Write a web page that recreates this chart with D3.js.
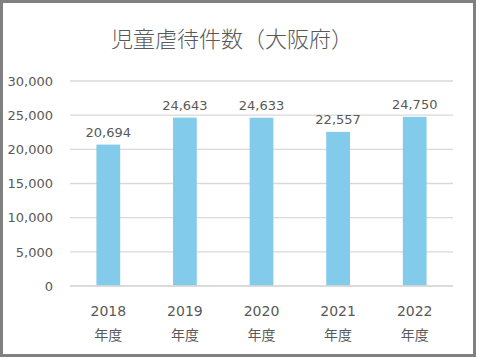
<!DOCTYPE html>
<html>
<head>
<meta charset="utf-8">
<script src="https://cdn.jsdelivr.net/npm/d3@7"></script>
<style>
  body { margin: 0; background: #fff; }
  text { font-family: "DejaVu Sans", Verdana, sans-serif; fill: #595959; }
  .jp { font-family: "Noto Sans CJK JP", sans-serif; }
</style>
</head>
<body>
<div id="chart"></div>
<script>
// data
var years = ['2018', '2019', '2020', '2021', '2022'];
var cases = [20694, 24643, 24633, 22557, 24750];
var yTicks = [0, 5000, 10000, 15000, 20000, 25000, 30000];
var title = '児童虐待件数（大阪府）';

var w = 477, h = 359;
// plot area (note: "top" is reserved on window, so use plot* names)
var plotLeft = 70, plotRight = 453, plotTop = 81, plotBottom = 286;

var svg = d3.select('#chart').append('svg')
  .attr('width', w).attr('height', h);

svg.append('rect')
  .attr('x', 1.5).attr('y', 1.5)
  .attr('width', w - 4).attr('height', h - 5)
  .attr('fill', '#fff').attr('stroke', '#808080').attr('stroke-width', 3);

var x = d3.scaleBand().domain(years).range([plotLeft, plotRight]).paddingInner(0.69).paddingOuter(0.345);
var y = d3.scaleLinear().domain([0, 30000]).range([plotBottom, plotTop]);

// gridlines
svg.selectAll('line.grid')
  .data(yTicks)
  .enter().append('line')
  .attr('x1', plotLeft).attr('x2', plotRight)
  .attr('y1', function(d) { return y(d); })
  .attr('y2', function(d) { return y(d); })
  .attr('stroke', '#d9d9d9').attr('stroke-width', 1.3);

// y axis labels
var yAxis = d3.axisLeft(y).tickValues(yTicks).tickSize(0).tickPadding(0)
  .tickFormat(d3.format(','));
var gy = svg.append('g').attr('transform', 'translate(53,0)').call(yAxis);
gy.select('.domain').remove();
gy.selectAll('text').attr('font-size', 13).attr('font-family', null).style('fill', '#595959');

// bars
svg.selectAll('rect.bar')
  .data(cases)
  .enter().append('rect')
  .attr('class', 'bar')
  .attr('x', function(d, i) { return x(years[i]); })
  .attr('width', x.bandwidth())
  .attr('y', function(d) { return y(d); })
  .attr('height', function(d) { return y(0) - y(d); })
  .attr('fill', '#83cbeb');

// re-draw baseline over bars
svg.append('line')
  .attr('x1', plotLeft).attr('x2', plotRight)
  .attr('y1', y(0)).attr('y2', y(0))
  .attr('stroke', '#d9d9d9').attr('stroke-width', 1.3);

// value labels
svg.selectAll('text.val')
  .data(cases)
  .enter().append('text')
  .attr('x', function(d, i) { return x(years[i]) + x.bandwidth() / 2; })
  .attr('y', function(d) { return y(d) - 8; })
  .attr('text-anchor', 'middle')
  .attr('font-size', 13)
  .text(d3.format(','));

// x labels
var gx = svg.selectAll('g.xl')
  .data(years)
  .enter().append('g')
  .attr('transform', function(d) { return 'translate(' + (x(d) + x.bandwidth() / 2) + ',0)'; });
gx.append('text')
  .attr('y', 316).attr('text-anchor', 'middle').attr('font-size', 14)
  .text(function(d) { return d; });
gx.append('text')
  .attr('class', 'jp')
  .attr('y', 340).attr('text-anchor', 'middle').attr('font-size', 14)
  .text('年度');

// title
svg.append('text')
  .attr('class', 'jp')
  .attr('x', 232).attr('y', 47)
  .attr('text-anchor', 'middle')
  .attr('font-size', 22)
  .attr('font-weight', 300)
  .text(title);
</script>
</body>
</html>
